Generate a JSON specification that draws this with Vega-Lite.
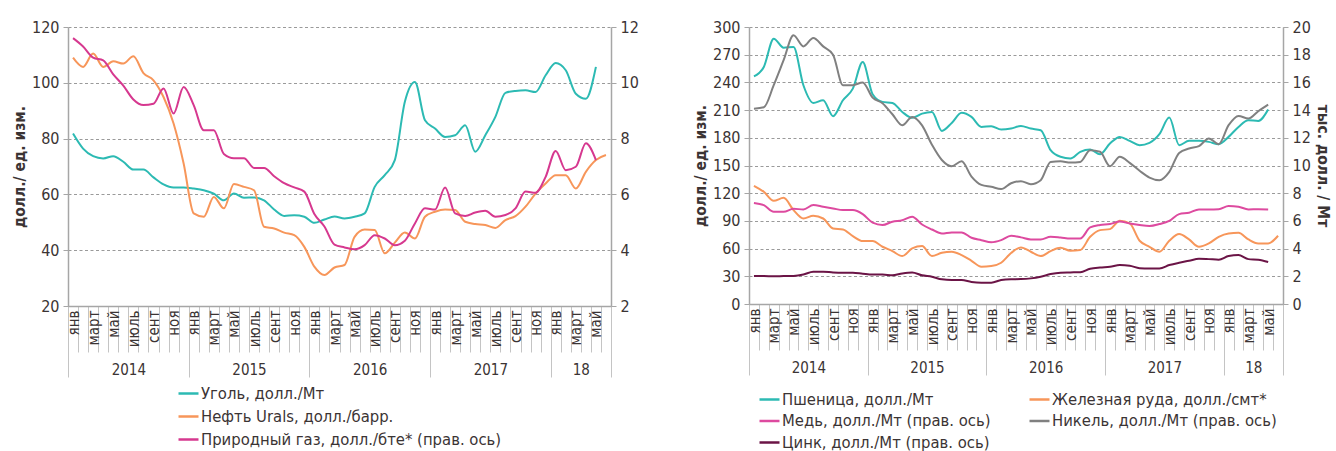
{
"$schema": "https://vega.github.io/schema/vega-lite/v6.json",
"padding": {"left": 12, "top": 19, "right": 2, "bottom": 0},
"config": {
  "font": "DejaVu Sans Condensed, Liberation Sans Narrow, sans-serif",
  "view": {"stroke": null},
  "axis": {"labelColor": "#3b3434", "titleColor": "#3b3434", "labelFontSize": 16, "domainColor": "#a6a6a6", "domainWidth": 1.5, "tickColor": "#a6a6a6", "gridColor": "#9a9a9a", "gridDash": [3, 2.5], "titleFontSize": 15.5, "titleFontWeight": "bold"},
  "legend": {"labelColor": "#3b3434", "labelFontSize": 16.5, "symbolType": "stroke", "symbolStrokeWidth": 2.5, "symbolSize": 400, "labelOffset": 1, "rowPadding": 3, "labelLimit": 400, "title": null},
  "concat": {"spacing": 54}
},
"datasets": {
"left": [
{"s":"Уголь, долл./Мт","m":0,"v":81.8},{"s":"Уголь, долл./Мт","m":1,"v":76.4},{"s":"Уголь, долл./Мт","m":2,"v":73.7},{"s":"Уголь, долл./Мт","m":3,"v":72.9},{"s":"Уголь, долл./Мт","m":4,"v":73.7},{"s":"Уголь, долл./Мт","m":5,"v":71.7},{"s":"Уголь, долл./Мт","m":6,"v":68.9},{"s":"Уголь, долл./Мт","m":7,"v":68.9},{"s":"Уголь, долл./Мт","m":8,"v":66.1},{"s":"Уголь, долл./Мт","m":9,"v":63.6},{"s":"Уголь, долл./Мт","m":10,"v":62.5},{"s":"Уголь, долл./Мт","m":11,"v":62.5},{"s":"Уголь, долл./Мт","m":12,"v":62.1},{"s":"Уголь, долл./Мт","m":13,"v":61.5},{"s":"Уголь, долл./Мт","m":14,"v":60.3},{"s":"Уголь, долл./Мт","m":15,"v":57.9},{"s":"Уголь, долл./Мт","m":16,"v":60.3},{"s":"Уголь, долл./Мт","m":17,"v":58.8},{"s":"Уголь, долл./Мт","m":18,"v":58.9},{"s":"Уголь, долл./Мт","m":19,"v":57.9},{"s":"Уголь, долл./Мт","m":20,"v":54.6},{"s":"Уголь, долл./Мт","m":21,"v":52.3},{"s":"Уголь, долл./Мт","m":22,"v":52.5},{"s":"Уголь, долл./Мт","m":23,"v":52.0},{"s":"Уголь, долл./Мт","m":24,"v":49.8},{"s":"Уголь, долл./Мт","m":25,"v":51.0},{"s":"Уголь, долл./Мт","m":26,"v":52.1},{"s":"Уголь, долл./Мт","m":27,"v":51.4},{"s":"Уголь, долл./Мт","m":28,"v":52.0},{"s":"Уголь, долл./Мт","m":29,"v":53.2},{"s":"Уголь, долл./Мт","m":30,"v":62.7},{"s":"Уголь, долл./Мт","m":31,"v":66.9},{"s":"Уголь, долл./Мт","m":32,"v":72.3},{"s":"Уголь, долл./Мт","m":33,"v":93.2},{"s":"Уголь, долл./Мт","m":34,"v":100.3},{"s":"Уголь, долл./Мт","m":35,"v":86.6},{"s":"Уголь, долл./Мт","m":36,"v":83.6},{"s":"Уголь, долл./Мт","m":37,"v":80.6},{"s":"Уголь, долл./Мт","m":38,"v":81.2},{"s":"Уголь, долл./Мт","m":39,"v":84.8},{"s":"Уголь, долл./Мт","m":40,"v":75.3},{"s":"Уголь, долл./Мт","m":41,"v":81.2},{"s":"Уголь, долл./Мт","m":42,"v":87.8},{"s":"Уголь, долл./Мт","m":43,"v":96.4},{"s":"Уголь, долл./Мт","m":44,"v":97.1},{"s":"Уголь, долл./Мт","m":45,"v":97.3},{"s":"Уголь, долл./Мт","m":46,"v":96.7},{"s":"Уголь, долл./Мт","m":47,"v":102.7},{"s":"Уголь, долл./Мт","m":48,"v":107.1},{"s":"Уголь, долл./Мт","m":49,"v":104.5},{"s":"Уголь, долл./Мт","m":50,"v":96.1},{"s":"Уголь, долл./Мт","m":51,"v":94.3},{"s":"Уголь, долл./Мт","m":52,"v":105.7},
{"s":"Нефть Urals, долл./барр.","m":0,"v":109.0},{"s":"Нефть Urals, долл./барр.","m":1,"v":105.7},{"s":"Нефть Urals, долл./барр.","m":2,"v":110.5},{"s":"Нефть Urals, долл./барр.","m":3,"v":105.7},{"s":"Нефть Urals, долл./барр.","m":4,"v":107.7},{"s":"Нефть Urals, долл./барр.","m":5,"v":106.9},{"s":"Нефть Urals, долл./барр.","m":6,"v":109.5},{"s":"Нефть Urals, долл./барр.","m":7,"v":103.5},{"s":"Нефть Urals, долл./барр.","m":8,"v":100.9},{"s":"Нефть Urals, долл./барр.","m":9,"v":94.9},{"s":"Нефть Urals, долл./барр.","m":10,"v":85.4},{"s":"Нефть Urals, долл./барр.","m":11,"v":71.1},{"s":"Нефть Urals, долл./барр.","m":12,"v":53.2},{"s":"Нефть Urals, долл./барр.","m":13,"v":52.0},{"s":"Нефть Urals, долл./барр.","m":14,"v":59.1},{"s":"Нефть Urals, долл./барр.","m":15,"v":55.0},{"s":"Нефть Urals, долл./барр.","m":16,"v":63.7},{"s":"Нефть Urals, долл./барр.","m":17,"v":62.7},{"s":"Нефть Urals, долл./барр.","m":18,"v":61.5},{"s":"Нефть Urals, долл./барр.","m":19,"v":48.4},{"s":"Нефть Urals, долл./барр.","m":20,"v":47.8},{"s":"Нефть Urals, долл./барр.","m":21,"v":46.3},{"s":"Нефть Urals, долл./барр.","m":22,"v":45.4},{"s":"Нефть Urals, долл./барр.","m":23,"v":41.2},{"s":"Нефть Urals, долл./барр.","m":24,"v":34.1},{"s":"Нефть Urals, долл./барр.","m":25,"v":31.1},{"s":"Нефть Urals, долл./барр.","m":26,"v":33.8},{"s":"Нефть Urals, долл./барр.","m":27,"v":34.7},{"s":"Нефть Urals, долл./барр.","m":28,"v":44.8},{"s":"Нефть Urals, долл./барр.","m":29,"v":47.4},{"s":"Нефть Urals, долл./барр.","m":30,"v":47.2},{"s":"Нефть Urals, долл./барр.","m":31,"v":38.9},{"s":"Нефть Urals, долл./барр.","m":32,"v":42.7},{"s":"Нефть Urals, долл./барр.","m":33,"v":46.3},{"s":"Нефть Urals, долл./барр.","m":34,"v":44.2},{"s":"Нефть Urals, долл./барр.","m":35,"v":52.0},{"s":"Нефть Urals, долл./барр.","m":36,"v":53.8},{"s":"Нефть Urals, долл./барр.","m":37,"v":54.6},{"s":"Нефть Urals, долл./барр.","m":38,"v":54.4},{"s":"Нефть Urals, долл./барр.","m":39,"v":50.2},{"s":"Нефть Urals, долл./барр.","m":40,"v":49.4},{"s":"Нефть Urals, долл./барр.","m":41,"v":49.0},{"s":"Нефть Urals, долл./барр.","m":42,"v":48.0},{"s":"Нефть Urals, долл./барр.","m":43,"v":50.8},{"s":"Нефть Urals, долл./барр.","m":44,"v":52.2},{"s":"Нефть Urals, долл./барр.","m":45,"v":55.6},{"s":"Нефть Urals, долл./барр.","m":46,"v":60.3},{"s":"Нефть Urals, долл./барр.","m":47,"v":63.9},{"s":"Нефть Urals, долл./барр.","m":48,"v":66.9},{"s":"Нефть Urals, долл./барр.","m":49,"v":66.9},{"s":"Нефть Urals, долл./барр.","m":50,"v":62.1},{"s":"Нефть Urals, долл./барр.","m":51,"v":68.1},{"s":"Нефть Urals, долл./барр.","m":52,"v":72.3},{"s":"Нефть Urals, долл./барр.","m":53,"v":74.1},
{"s":"Природный газ, долл./бте* (прав. ось)","m":0,"v":11.6},{"s":"Природный газ, долл./бте* (прав. ось)","m":1,"v":11.3},{"s":"Природный газ, долл./бте* (прав. ось)","m":2,"v":10.9},{"s":"Природный газ, долл./бте* (прав. ось)","m":3,"v":10.8},{"s":"Природный газ, долл./бте* (прав. ось)","m":4,"v":10.3},{"s":"Природный газ, долл./бте* (прав. ось)","m":5,"v":9.9},{"s":"Природный газ, долл./бте* (прав. ось)","m":6,"v":9.4},{"s":"Природный газ, долл./бте* (прав. ось)","m":7,"v":9.2},{"s":"Природный газ, долл./бте* (прав. ось)","m":8,"v":9.25},{"s":"Природный газ, долл./бте* (прав. ось)","m":9,"v":9.8},{"s":"Природный газ, долл./бте* (прав. ось)","m":10,"v":8.9},{"s":"Природный газ, долл./бте* (прав. ось)","m":11,"v":9.85},{"s":"Природный газ, долл./бте* (прав. ось)","m":12,"v":9.2},{"s":"Природный газ, долл./бте* (прав. ось)","m":13,"v":8.3},{"s":"Природный газ, долл./бте* (прав. ось)","m":14,"v":8.3},{"s":"Природный газ, долл./бте* (прав. ось)","m":15,"v":7.45},{"s":"Природный газ, долл./бте* (прав. ось)","m":16,"v":7.3},{"s":"Природный газ, долл./бте* (прав. ось)","m":17,"v":7.3},{"s":"Природный газ, долл./бте* (прав. ось)","m":18,"v":6.95},{"s":"Природный газ, долл./бте* (прав. ось)","m":19,"v":6.95},{"s":"Природный газ, долл./бте* (прав. ось)","m":20,"v":6.65},{"s":"Природный газ, долл./бте* (прав. ось)","m":21,"v":6.4},{"s":"Природный газ, долл./бте* (прав. ось)","m":22,"v":6.25},{"s":"Природный газ, долл./бте* (прав. ось)","m":23,"v":6.1},{"s":"Природный газ, долл./бте* (прав. ось)","m":24,"v":5.3},{"s":"Природный газ, долл./бте* (прав. ось)","m":25,"v":4.85},{"s":"Природный газ, долл./бте* (прав. ось)","m":26,"v":4.2},{"s":"Природный газ, долл./бте* (прав. ось)","m":27,"v":4.1},{"s":"Природный газ, долл./бте* (прав. ось)","m":28,"v":4.03},{"s":"Природный газ, долл./бте* (прав. ось)","m":29,"v":4.18},{"s":"Природный газ, долл./бте* (прав. ось)","m":30,"v":4.54},{"s":"Природный газ, долл./бте* (прав. ось)","m":31,"v":4.42},{"s":"Природный газ, долл./бте* (прав. ось)","m":32,"v":4.18},{"s":"Природный газ, долл./бте* (прав. ось)","m":33,"v":4.34},{"s":"Природный газ, долл./бте* (прав. ось)","m":34,"v":4.96},{"s":"Природный газ, долл./бте* (прав. ось)","m":35,"v":5.5},{"s":"Природный газ, долл./бте* (прав. ось)","m":36,"v":5.46},{"s":"Природный газ, долл./бте* (прав. ось)","m":37,"v":6.25},{"s":"Природный газ, долл./бте* (прав. ось)","m":38,"v":5.32},{"s":"Природный газ, долл./бте* (прав. ось)","m":39,"v":5.23},{"s":"Природный газ, долл./бте* (прав. ось)","m":40,"v":5.35},{"s":"Природный газ, долл./бте* (прав. ось)","m":41,"v":5.41},{"s":"Природный газ, долл./бте* (прав. ось)","m":42,"v":5.2},{"s":"Природный газ, долл./бте* (прав. ось)","m":43,"v":5.26},{"s":"Природный газ, долл./бте* (прав. ось)","m":44,"v":5.5},{"s":"Природный газ, долл./бте* (прав. ось)","m":45,"v":6.1},{"s":"Природный газ, долл./бте* (прав. ось)","m":46,"v":6.06},{"s":"Природный газ, долл./бте* (прав. ось)","m":47,"v":6.63},{"s":"Природный газ, долл./бте* (прав. ось)","m":48,"v":7.56},{"s":"Природный газ, долл./бте* (прав. ось)","m":49,"v":6.87},{"s":"Природный газ, долл./бте* (прав. ось)","m":50,"v":6.99},{"s":"Природный газ, долл./бте* (прав. ось)","m":51,"v":7.83},{"s":"Природный газ, долл./бте* (прав. ось)","m":52,"v":7.23}
],
"right": [
{"s":"Пшеница, долл./Мт","m":0,"v":246.6},{"s":"Пшеница, долл./Мт","m":1,"v":256.7},{"s":"Пшеница, долл./Мт","m":2,"v":287.4},{"s":"Пшеница, долл./Мт","m":3,"v":277.6},{"s":"Пшеница, долл./Мт","m":4,"v":278.4},{"s":"Пшеница, долл./Мт","m":5,"v":236.9},{"s":"Пшеница, долл./Мт","m":6,"v":217.8},{"s":"Пшеница, долл./Мт","m":7,"v":220.7},{"s":"Пшеница, долл./Мт","m":8,"v":203.4},{"s":"Пшеница, долл./Мт","m":9,"v":220.7},{"s":"Пшеница, долл./Мт","m":10,"v":233.3},{"s":"Пшеница, долл./Мт","m":11,"v":262.1},{"s":"Пшеница, долл./Мт","m":12,"v":227.2},{"s":"Пшеница, долл./Мт","m":13,"v":218.9},{"s":"Пшеница, долл./Мт","m":14,"v":217.8},{"s":"Пшеница, долл./Мт","m":15,"v":208.0},{"s":"Пшеница, долл./Мт","m":16,"v":201.6},{"s":"Пшеница, долл./Мт","m":17,"v":206.2},{"s":"Пшеница, долл./Мт","m":18,"v":208.0},{"s":"Пшеница, долл./Мт","m":19,"v":187.5},{"s":"Пшеница, долл./Мт","m":20,"v":196.1},{"s":"Пшеница, долл./Мт","m":21,"v":207.0},{"s":"Пшеница, долл./Мт","m":22,"v":202.6},{"s":"Пшеница, долл./Мт","m":23,"v":191.8},{"s":"Пшеница, долл./Мт","m":24,"v":192.5},{"s":"Пшеница, долл./Мт","m":25,"v":188.9},{"s":"Пшеница, долл./Мт","m":26,"v":190.0},{"s":"Пшеница, долл./Мт","m":27,"v":192.9},{"s":"Пшеница, долл./Мт","m":28,"v":190.0},{"s":"Пшеница, долл./Мт","m":29,"v":188.2},{"s":"Пшеница, долл./Мт","m":30,"v":166.6},{"s":"Пшеница, долл./Мт","m":31,"v":159.4},{"s":"Пшеница, долл./Мт","m":32,"v":157.6},{"s":"Пшеница, долл./Мт","m":33,"v":164.8},{"s":"Пшеница, долл./Мт","m":34,"v":167.3},{"s":"Пшеница, долл./Мт","m":35,"v":162.2},{"s":"Пшеница, долл./Мт","m":36,"v":173.8},{"s":"Пшеница, долл./Мт","m":37,"v":181.0},{"s":"Пшеница, долл./Мт","m":38,"v":176.7},{"s":"Пшеница, долл./Мт","m":39,"v":172.0},{"s":"Пшеница, долл./Мт","m":40,"v":174.5},{"s":"Пшеница, долл./Мт","m":41,"v":183.9},{"s":"Пшеница, долл./Мт","m":42,"v":201.9},{"s":"Пшеница, долл./Мт","m":43,"v":172.0},{"s":"Пшеница, долл./Мт","m":44,"v":176.7},{"s":"Пшеница, долл./Мт","m":45,"v":176.7},{"s":"Пшеница, долл./Мт","m":46,"v":175.6},{"s":"Пшеница, долл./Мт","m":47,"v":173.1},{"s":"Пшеница, долл./Мт","m":48,"v":181.0},{"s":"Пшеница, долл./Мт","m":49,"v":191.8},{"s":"Пшеница, долл./Мт","m":50,"v":199.0},{"s":"Пшеница, долл./Мт","m":51,"v":198.3},{"s":"Пшеница, долл./Мт","m":52,"v":210.6},
{"s":"Железная руда, долл./смт*","m":0,"v":128.0},{"s":"Железная руда, долл./смт*","m":1,"v":121.5},{"s":"Железная руда, долл./смт*","m":2,"v":111.8},{"s":"Железная руда, долл./смт*","m":3,"v":115.0},{"s":"Железная руда, долл./смт*","m":4,"v":101.7},{"s":"Железная руда, долл./смт*","m":5,"v":92.6},{"s":"Железная руда, долл./смт*","m":6,"v":95.5},{"s":"Железная руда, долл./смт*","m":7,"v":92.6},{"s":"Железная руда, долл./смт*","m":8,"v":81.8},{"s":"Железная руда, долл./смт*","m":9,"v":80.7},{"s":"Железная руда, долл./смт*","m":10,"v":73.5},{"s":"Железная руда, долл./смт*","m":11,"v":68.1},{"s":"Железная руда, долл./смт*","m":12,"v":68.1},{"s":"Железная руда, долл./смт*","m":13,"v":62.0},{"s":"Железная руда, долл./смт*","m":14,"v":57.3},{"s":"Железная руда, долл./смт*","m":15,"v":51.9},{"s":"Железная руда, долл./смт*","m":16,"v":60.2},{"s":"Железная руда, долл./смт*","m":17,"v":62.7},{"s":"Железная руда, долл./смт*","m":18,"v":51.9},{"s":"Железная руда, долл./смт*","m":19,"v":55.5},{"s":"Железная руда, долл./смт*","m":20,"v":56.6},{"s":"Железная руда, долл./смт*","m":21,"v":53.0},{"s":"Железная руда, долл./смт*","m":22,"v":46.8},{"s":"Железная руда, долл./смт*","m":23,"v":40.4},{"s":"Железная руда, долл./смт*","m":24,"v":41.1},{"s":"Железная руда, долл./смт*","m":25,"v":44.7},{"s":"Железная руда, долл./смт*","m":26,"v":55.2},{"s":"Железная руда, долл./смт*","m":27,"v":61.3},{"s":"Железная руда, долл./смт*","m":28,"v":56.6},{"s":"Железная руда, долл./смт*","m":29,"v":51.9},{"s":"Железная руда, долл./смт*","m":30,"v":57.3},{"s":"Железная руда, долл./смт*","m":31,"v":60.9},{"s":"Железная руда, долл./смт*","m":32,"v":57.7},{"s":"Железная руда, долл./смт*","m":33,"v":58.4},{"s":"Железная руда, долл./смт*","m":34,"v":72.8},{"s":"Железная руда, долл./смт*","m":35,"v":80.0},{"s":"Железная руда, долл./смт*","m":36,"v":81.1},{"s":"Железная руда, долл./смт*","m":37,"v":90.1},{"s":"Железная руда, долл./смт*","m":38,"v":87.2},{"s":"Железная руда, долл./смт*","m":39,"v":68.5},{"s":"Железная руда, долл./смт*","m":40,"v":62.0},{"s":"Железная руда, долл./смт*","m":41,"v":56.6},{"s":"Железная руда, долл./смт*","m":42,"v":68.5},{"s":"Железная руда, долл./смт*","m":43,"v":75.7},{"s":"Железная руда, долл./смт*","m":44,"v":69.9},{"s":"Железная руда, долл./смт*","m":45,"v":62.0},{"s":"Железная руда, долл./смт*","m":46,"v":65.6},{"s":"Железная руда, долл./смт*","m":47,"v":72.8},{"s":"Железная руда, долл./смт*","m":48,"v":76.4},{"s":"Железная руда, долл./смт*","m":49,"v":77.1},{"s":"Железная руда, долл./смт*","m":50,"v":69.9},{"s":"Железная руда, долл./смт*","m":51,"v":65.6},{"s":"Железная руда, долл./смт*","m":52,"v":65.6},{"s":"Железная руда, долл./смт*","m":53,"v":73.9},
{"s":"Медь, долл./Мт (прав. ось)","m":0,"v":7.3},{"s":"Медь, долл./Мт (прав. ось)","m":1,"v":7.14},{"s":"Медь, долл./Мт (прав. ось)","m":2,"v":6.66},{"s":"Медь, долл./Мт (прав. ось)","m":3,"v":6.66},{"s":"Медь, долл./Мт (прав. ось)","m":4,"v":6.87},{"s":"Медь, долл./Мт (прав. ось)","m":5,"v":6.83},{"s":"Медь, долл./Мт (прав. ось)","m":6,"v":7.14},{"s":"Медь, долл./Мт (прав. ось)","m":7,"v":7.02},{"s":"Медь, долл./Мт (прав. ось)","m":8,"v":6.9},{"s":"Медь, долл./Мт (прав. ось)","m":9,"v":6.78},{"s":"Медь, долл./Мт (прав. ось)","m":10,"v":6.78},{"s":"Медь, долл./Мт (прав. ось)","m":11,"v":6.49},{"s":"Медь, долл./Мт (прав. ось)","m":12,"v":5.87},{"s":"Медь, долл./Мт (прав. ось)","m":13,"v":5.7},{"s":"Медь, долл./Мт (прав. ось)","m":14,"v":5.94},{"s":"Медь, долл./Мт (прав. ось)","m":15,"v":6.05},{"s":"Медь, долл./Мт (прав. ось)","m":16,"v":6.3},{"s":"Медь, долл./Мт (прав. ось)","m":17,"v":5.74},{"s":"Медь, долл./Мт (прав. ось)","m":18,"v":5.38},{"s":"Медь, долл./Мт (прав. ось)","m":19,"v":5.09},{"s":"Медь, долл./Мт (прав. ось)","m":20,"v":5.17},{"s":"Медь, долл./Мт (прав. ось)","m":21,"v":5.17},{"s":"Медь, долл./Мт (прав. ось)","m":22,"v":4.78},{"s":"Медь, долл./Мт (прав. ось)","m":23,"v":4.61},{"s":"Медь, долл./Мт (прав. ось)","m":24,"v":4.45},{"s":"Медь, долл./Мт (прав. ось)","m":25,"v":4.61},{"s":"Медь, долл./Мт (прав. ось)","m":26,"v":4.93},{"s":"Медь, долл./Мт (прав. ось)","m":27,"v":4.81},{"s":"Медь, долл./Мт (прав. ось)","m":28,"v":4.66},{"s":"Медь, долл./Мт (прав. ось)","m":29,"v":4.66},{"s":"Медь, долл./Мт (прав. ось)","m":30,"v":4.85},{"s":"Медь, долл./Мт (прав. ось)","m":31,"v":4.8},{"s":"Медь, долл./Мт (прав. ось)","m":32,"v":4.73},{"s":"Медь, долл./Мт (прав. ось)","m":33,"v":4.73},{"s":"Медь, долл./Мт (прав. ось)","m":34,"v":5.53},{"s":"Медь, долл./Мт (прав. ось)","m":35,"v":5.7},{"s":"Медь, долл./Мт (прав. ось)","m":36,"v":5.77},{"s":"Медь, долл./Мт (прав. ось)","m":37,"v":5.96},{"s":"Медь, долл./Мт (прав. ось)","m":38,"v":5.81},{"s":"Медь, долл./Мт (прав. ось)","m":39,"v":5.7},{"s":"Медь, долл./Мт (прав. ось)","m":40,"v":5.63},{"s":"Медь, долл./Мт (прав. ось)","m":41,"v":5.77},{"s":"Медь, долл./Мт (прав. ось)","m":42,"v":6.0},{"s":"Медь, долл./Мт (прав. ось)","m":43,"v":6.49},{"s":"Медь, долл./Мт (прав. ось)","m":44,"v":6.59},{"s":"Медь, долл./Мт (прав. ось)","m":45,"v":6.83},{"s":"Медь, долл./Мт (прав. ось)","m":46,"v":6.83},{"s":"Медь, долл./Мт (прав. ось)","m":47,"v":6.85},{"s":"Медь, долл./Мт (прав. ось)","m":48,"v":7.07},{"s":"Медь, долл./Мт (прав. ось)","m":49,"v":7.02},{"s":"Медь, долл./Мт (прав. ось)","m":50,"v":6.83},{"s":"Медь, долл./Мт (прав. ось)","m":51,"v":6.85},{"s":"Медь, долл./Мт (прав. ось)","m":52,"v":6.83},
{"s":"Никель, долл./Мт (прав. ось)","m":0,"v":14.1},{"s":"Никель, долл./Мт (прав. ось)","m":1,"v":14.2},{"s":"Никель, долл./Мт (прав. ось)","m":2,"v":15.8},{"s":"Никель, долл./Мт (прав. ось)","m":3,"v":17.6},{"s":"Никель, долл./Мт (прав. ось)","m":4,"v":19.4},{"s":"Никель, долл./Мт (прав. ось)","m":5,"v":18.6},{"s":"Никель, долл./Мт (прав. ось)","m":6,"v":19.2},{"s":"Никель, долл./Мт (прав. ось)","m":7,"v":18.6},{"s":"Никель, долл./Мт (прав. ось)","m":8,"v":18.0},{"s":"Никель, долл./Мт (прав. ось)","m":9,"v":15.8},{"s":"Никель, долл./Мт (прав. ось)","m":10,"v":15.8},{"s":"Никель, долл./Мт (прав. ось)","m":11,"v":16.0},{"s":"Никель, долл./Мт (прав. ось)","m":12,"v":14.9},{"s":"Никель, долл./Мт (прав. ось)","m":13,"v":14.5},{"s":"Никель, долл./Мт (прав. ось)","m":14,"v":13.7},{"s":"Никель, долл./Мт (прав. ось)","m":15,"v":12.9},{"s":"Никель, долл./Мт (прав. ось)","m":16,"v":13.5},{"s":"Никель, долл./Мт (прав. ось)","m":17,"v":12.9},{"s":"Никель, долл./Мт (прав. ось)","m":18,"v":11.5},{"s":"Никель, долл./Мт (прав. ось)","m":19,"v":10.4},{"s":"Никель, долл./Мт (прав. ось)","m":20,"v":9.95},{"s":"Никель, долл./Мт (прав. ось)","m":21,"v":10.3},{"s":"Никель, долл./Мт (прав. ось)","m":22,"v":9.2},{"s":"Никель, долл./Мт (прав. ось)","m":23,"v":8.6},{"s":"Никель, долл./Мт (прав. ось)","m":24,"v":8.46},{"s":"Никель, долл./Мт (прав. ось)","m":25,"v":8.3},{"s":"Никель, долл./Мт (прав. ось)","m":26,"v":8.72},{"s":"Никель, долл./Мт (прав. ось)","m":27,"v":8.87},{"s":"Никель, долл./Мт (прав. ось)","m":28,"v":8.65},{"s":"Никель, долл./Мт (прав. ось)","m":29,"v":8.94},{"s":"Никель, долл./Мт (прав. ось)","m":30,"v":10.26},{"s":"Никель, долл./Мт (прав. ось)","m":31,"v":10.31},{"s":"Никель, долл./Мт (прав. ось)","m":32,"v":10.21},{"s":"Никель, долл./Мт (прав. ось)","m":33,"v":10.26},{"s":"Никель, долл./Мт (прав. ось)","m":34,"v":11.1},{"s":"Никель, долл./Мт (прав. ось)","m":35,"v":10.99},{"s":"Никель, долл./Мт (прав. ось)","m":36,"v":9.95},{"s":"Никель, долл./Мт (прав. ось)","m":37,"v":10.63},{"s":"Никель, долл./Мт (прав. ось)","m":38,"v":10.19},{"s":"Никель, долл./Мт (прав. ось)","m":39,"v":9.62},{"s":"Никель, долл./Мт (прав. ось)","m":40,"v":9.13},{"s":"Никель, долл./Мт (прав. ось)","m":41,"v":8.94},{"s":"Никель, долл./Мт (прав. ось)","m":42,"v":9.54},{"s":"Никель, долл./Мт (прав. ось)","m":43,"v":10.91},{"s":"Никель, долл./Мт (прав. ось)","m":44,"v":11.23},{"s":"Никель, долл./Мт (прав. ось)","m":45,"v":11.4},{"s":"Никель, долл./Мт (прав. ось)","m":46,"v":11.95},{"s":"Никель, долл./Мт (прав. ось)","m":47,"v":11.54},{"s":"Никель, долл./Мт (прав. ось)","m":48,"v":12.91},{"s":"Никель, долл./Мт (прав. ось)","m":49,"v":13.58},{"s":"Никель, долл./Мт (прав. ось)","m":50,"v":13.39},{"s":"Никель, долл./Мт (прав. ось)","m":51,"v":13.92},{"s":"Никель, долл./Мт (прав. ось)","m":52,"v":14.4},
{"s":"Цинк, долл./Мт (прав. ось)","m":0,"v":2.02},{"s":"Цинк, долл./Мт (прав. ось)","m":1,"v":2.02},{"s":"Цинк, долл./Мт (прав. ось)","m":2,"v":2.0},{"s":"Цинк, долл./Мт (прав. ось)","m":3,"v":2.02},{"s":"Цинк, долл./Мт (прав. ось)","m":4,"v":2.03},{"s":"Цинк, долл./Мт (прав. ось)","m":5,"v":2.13},{"s":"Цинк, долл./Мт (прав. ось)","m":6,"v":2.33},{"s":"Цинк, долл./Мт (прав. ось)","m":7,"v":2.33},{"s":"Цинк, долл./Мт (прав. ось)","m":8,"v":2.28},{"s":"Цинк, долл./Мт (прав. ось)","m":9,"v":2.26},{"s":"Цинк, долл./Мт (прав. ось)","m":10,"v":2.26},{"s":"Цинк, долл./Мт (прав. ось)","m":11,"v":2.19},{"s":"Цинк, долл./Мт (прав. ось)","m":12,"v":2.13},{"s":"Цинк, долл./Мт (прав. ось)","m":13,"v":2.13},{"s":"Цинк, долл./Мт (прав. ось)","m":14,"v":2.07},{"s":"Цинк, долл./Мт (прав. ось)","m":15,"v":2.21},{"s":"Цинк, долл./Мт (прав. ось)","m":16,"v":2.28},{"s":"Цинк, долл./Мт (прав. ось)","m":17,"v":2.07},{"s":"Цинк, долл./Мт (прав. ось)","m":18,"v":1.97},{"s":"Цинк, долл./Мт (прав. ось)","m":19,"v":1.78},{"s":"Цинк, долл./Мт (прав. ось)","m":20,"v":1.73},{"s":"Цинк, долл./Мт (прав. ось)","m":21,"v":1.73},{"s":"Цинк, долл./Мт (прав. ось)","m":22,"v":1.59},{"s":"Цинк, долл./Мт (прав. ось)","m":23,"v":1.54},{"s":"Цинк, долл./Мт (прав. ось)","m":24,"v":1.54},{"s":"Цинк, долл./Мт (прав. ось)","m":25,"v":1.73},{"s":"Цинк, долл./Мт (прав. ось)","m":26,"v":1.79},{"s":"Цинк, долл./Мт (прав. ось)","m":27,"v":1.8},{"s":"Цинк, долл./Мт (прав. ось)","m":28,"v":1.85},{"s":"Цинк, долл./Мт (прав. ось)","m":29,"v":1.97},{"s":"Цинк, долл./Мт (прав. ось)","m":30,"v":2.16},{"s":"Цинк, долл./Мт (прав. ось)","m":31,"v":2.26},{"s":"Цинк, долл./Мт (прав. ось)","m":32,"v":2.28},{"s":"Цинк, долл./Мт (прав. ось)","m":33,"v":2.3},{"s":"Цинк, долл./Мт (прав. ось)","m":34,"v":2.55},{"s":"Цинк, долл./Мт (прав. ось)","m":35,"v":2.64},{"s":"Цинк, долл./Мт (прав. ось)","m":36,"v":2.69},{"s":"Цинк, долл./Мт (прав. ось)","m":37,"v":2.81},{"s":"Цинк, долл./Мт (прав. ось)","m":38,"v":2.76},{"s":"Цинк, долл./Мт (прав. ось)","m":39,"v":2.59},{"s":"Цинк, долл./Мт (прав. ось)","m":40,"v":2.57},{"s":"Цинк, долл./Мт (прав. ось)","m":41,"v":2.57},{"s":"Цинк, долл./Мт (прав. ось)","m":42,"v":2.81},{"s":"Цинк, долл./Мт (прав. ось)","m":43,"v":2.98},{"s":"Цинк, долл./Мт (прав. ось)","m":44,"v":3.12},{"s":"Цинк, долл./Мт (прав. ось)","m":45,"v":3.27},{"s":"Цинк, долл./Мт (прав. ось)","m":46,"v":3.24},{"s":"Цинк, долл./Мт (прав. ось)","m":47,"v":3.2},{"s":"Цинк, долл./Мт (прав. ось)","m":48,"v":3.46},{"s":"Цинк, долл./Мт (прав. ось)","m":49,"v":3.53},{"s":"Цинк, долл./Мт (прав. ось)","m":50,"v":3.24},{"s":"Цинк, долл./Мт (прав. ось)","m":51,"v":3.2},{"s":"Цинк, долл./Мт (прав. ось)","m":52,"v":3.03}
]
},
"hconcat": [
{
  "width": 543, "height": 279,
  "data": {"name": "left"},
  "layer": [
    {
      "transform": [{"filter": {"field": "s", "oneOf": ["Уголь, долл./Мт", "Нефть Urals, долл./барр."]}}],
      "mark": {"type": "line", "interpolate": "monotone", "strokeWidth": 2},
      "encoding": {
        "x": {"field": "m", "type": "quantitative", "scale": {"domain": [-0.5, 53.5], "nice": false, "zero": false},
          "axis": {"orient": "bottom", "title": null, "grid": false,
            "values": [-0.5,0.5,1.5,2.5,3.5,4.5,5.5,6.5,7.5,8.5,9.5,10.5,11.5,12.5,13.5,14.5,15.5,16.5,17.5,18.5,19.5,20.5,21.5,22.5,23.5,24.5,25.5,26.5,27.5,28.5,29.5,30.5,31.5,32.5,33.5,34.5,35.5,36.5,37.5,38.5,39.5,40.5,41.5,42.5,43.5,44.5,45.5,46.5,47.5,48.5,49.5,50.5,51.5,52.5,53.5],
            "labelExpr": "(datum.value+0.5)%2==0 && datum.value<53 ? ['янв','фев','март','апр','май','июнь','июль','авг','сент','окт','ноя','дек'][(datum.value+0.5)%12] : ''",
            "labelAngle": 270, "labelAlign": "right", "labelBaseline": "middle", "labelOffset": 5, "labelFontSize": 15, "labelOverlap": false, "labelFlush": false,
            "labelPadding": {"condition": {"test": "(datum.value+0.5)%12==0 || datum.value==53.5", "value": -67}, "value": -42},
            "tickSize": {"condition": {"test": "(datum.value+0.5)%12==0 || datum.value==53.5", "value": 71}, "value": 46},
            "tickColor": "#c4c4c4"}},
        "y": {"field": "v", "type": "quantitative", "scale": {"domain": [20, 120], "nice": false, "zero": false},
          "axis": {"values": [20, 40, 60, 80, 100, 120], "title": "долл./ ед. изм.", "grid": true, "tickSize": 5, "labelPadding": 4}},
        "color": {"field": "s", "type": "nominal",
          "scale": {"domain": ["Уголь, долл./Мт", "Нефть Urals, долл./барр.", "Природный газ, долл./бте* (прав. ось)"], "range": ["#2cbab3", "#f7965a", "#d6388f"]},
          "legend": {"orient": "none", "legendX": 109, "legendY": 355, "direction": "vertical"}}
      }
    },
    {
      "transform": [{"filter": {"field": "s", "equal": "Природный газ, долл./бте* (прав. ось)"}}],
      "mark": {"type": "line", "interpolate": "monotone", "strokeWidth": 2},
      "encoding": {
        "x": {"field": "m", "type": "quantitative", "scale": {"domain": [-0.5, 53.5], "nice": false, "zero": false},
          "axis": {"orient": "bottom", "title": null, "grid": false, "ticks": false, "domain": false,
            "values": [5.5, 17.5, 29.5, 41.5, 50.5],
            "labelExpr": "datum.value==5.5?'2014':datum.value==17.5?'2015':datum.value==29.5?'2016':datum.value==41.5?'2017':'18'",
            "labelPadding": 56, "labelFontSize": 15, "labelAngle": 0, "labelFlush": false, "labelOverlap": false}},
        "y": {"field": "v", "type": "quantitative", "scale": {"domain": [2, 12], "nice": false, "zero": false},
          "axis": {"orient": "right", "values": [2, 4, 6, 8, 10, 12], "title": null, "grid": false, "tickSize": 5, "labelPadding": 4}},
        "color": {"field": "s", "type": "nominal"}
      }
    }
  ],
  "resolve": {"scale": {"x": "independent", "y": "independent"}}
},
{
  "width": 534, "height": 277,
  "data": {"name": "right"},
  "layer": [
    {
      "transform": [{"filter": {"field": "s", "oneOf": ["Пшеница, долл./Мт", "Железная руда, долл./смт*"]}}],
      "mark": {"type": "line", "interpolate": "monotone", "strokeWidth": 2},
      "encoding": {
        "x": {"field": "m", "type": "quantitative", "scale": {"domain": [-0.5, 53.5], "nice": false, "zero": false},
          "axis": {"orient": "bottom", "title": null, "grid": false,
            "values": [-0.5,0.5,1.5,2.5,3.5,4.5,5.5,6.5,7.5,8.5,9.5,10.5,11.5,12.5,13.5,14.5,15.5,16.5,17.5,18.5,19.5,20.5,21.5,22.5,23.5,24.5,25.5,26.5,27.5,28.5,29.5,30.5,31.5,32.5,33.5,34.5,35.5,36.5,37.5,38.5,39.5,40.5,41.5,42.5,43.5,44.5,45.5,46.5,47.5,48.5,49.5,50.5,51.5,52.5,53.5],
            "labelExpr": "(datum.value+0.5)%2==0 && datum.value<53 ? ['янв','фев','март','апр','май','июнь','июль','авг','сент','окт','ноя','дек'][(datum.value+0.5)%12] : ''",
            "labelAngle": 270, "labelAlign": "right", "labelBaseline": "middle", "labelOffset": 5, "labelFontSize": 15, "labelOverlap": false, "labelFlush": false,
            "labelPadding": {"condition": {"test": "(datum.value+0.5)%12==0 || datum.value==53.5", "value": -67}, "value": -42},
            "tickSize": {"condition": {"test": "(datum.value+0.5)%12==0 || datum.value==53.5", "value": 71}, "value": 46},
            "tickColor": "#c4c4c4"}},
        "y": {"field": "v", "type": "quantitative", "scale": {"domain": [0, 300], "nice": false},
          "axis": {"values": [0, 30, 60, 90, 120, 150, 180, 210, 240, 270, 300], "title": "долл./ ед. изм.", "grid": true, "tickSize": 5, "labelPadding": 4}},
        "color": {"field": "s", "type": "nominal",
          "scale": {"domain": ["Пшеница, долл./Мт", "Железная руда, долл./смт*", "Медь, долл./Мт (прав. ось)", "Никель, долл./Мт (прав. ось)", "Цинк, долл./Мт (прав. ось)"], "range": ["#2cbab3", "#f7965a", "#dd4a9f", "#808080", "#6b1446"]},
          "legend": {"orient": "none", "legendX": 9, "legendY": 361, "direction": "horizontal", "columns": 2, "columnPadding": 33, "rowPadding": 1.5, "labelFontSize": 16.5}}
      }
    },
    {
      "transform": [{"filter": {"field": "s", "oneOf": ["Медь, долл./Мт (прав. ось)", "Никель, долл./Мт (прав. ось)", "Цинк, долл./Мт (прав. ось)"]}}],
      "mark": {"type": "line", "interpolate": "monotone", "strokeWidth": 2},
      "encoding": {
        "x": {"field": "m", "type": "quantitative", "scale": {"domain": [-0.5, 53.5], "nice": false, "zero": false},
          "axis": {"orient": "bottom", "title": null, "grid": false, "ticks": false, "domain": false,
            "values": [5.5, 17.5, 29.5, 41.5, 50.5],
            "labelExpr": "datum.value==5.5?'2014':datum.value==17.5?'2015':datum.value==29.5?'2016':datum.value==41.5?'2017':'18'",
            "labelPadding": 56, "labelFontSize": 15, "labelAngle": 0, "labelFlush": false, "labelOverlap": false}},
        "y": {"field": "v", "type": "quantitative", "scale": {"domain": [0, 20], "nice": false},
          "axis": {"orient": "right", "values": [0, 2, 4, 6, 8, 10, 12, 14, 16, 18, 20], "title": "тыс. долл. / Мт", "grid": false, "tickSize": 5, "labelPadding": 4}},
        "color": {"field": "s", "type": "nominal"}
      }
    }
  ],
  "resolve": {"scale": {"x": "independent", "y": "independent"}}
}
],
"resolve": {"scale": {"color": "independent"}, "legend": {"color": "independent"}}
}
